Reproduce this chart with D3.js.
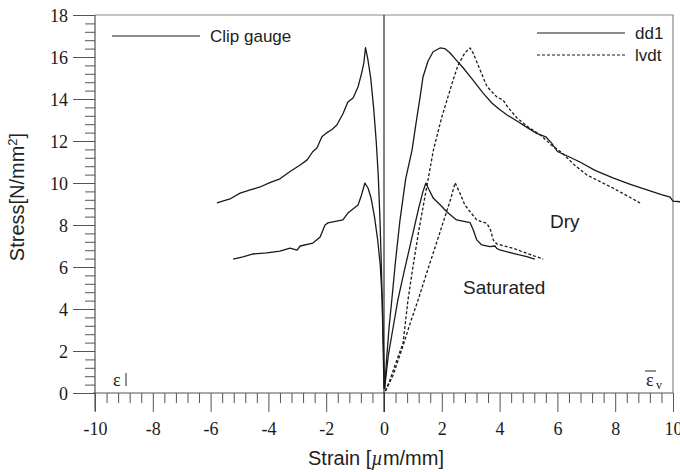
<!DOCTYPE html>
<html>
<head>
<meta charset="utf-8">
<script src="https://cdn.jsdelivr.net/npm/d3@7/dist/d3.min.js"></script>
<style>
  html, body { margin: 0; padding: 0; background: #fff; }
  svg { display: block; }
  .tick text { font-family: "Liberation Serif", "Times New Roman", serif; font-size: 18px; fill: #1a1a1a; }
</style>
</head>
<body>
<svg id="chart" width="680" height="472"></svg>
<script>
// Stress–strain curves: [strain µm/mm, stress N/mm²]
const clipDry = [[-5.78,9.05],[-5.33,9.24],[-4.98,9.52],[-4.6,9.68],[-4.29,9.81],[-3.95,10.02],[-3.6,10.2],
  [-3.25,10.55],[-2.9,10.86],[-2.66,11.1],[-2.46,11.5],[-2.32,11.67],[-2.15,12.2],[-1.97,12.4],[-1.8,12.55],
  [-1.63,12.76],[-1.42,13.3],[-1.25,13.86],[-1.07,14.05],[-0.9,14.57],[-0.78,15.2],[-0.7,15.7],[-0.64,16.45],
  [-0.56,15.9],[-0.46,15.0],[-0.36,13.6],[-0.27,12.0],[-0.2,10.4],[-0.14,8.3],[-0.09,6.0],[-0.05,3.5],[0.0,0.2]];
const clipSat = [[-5.22,6.37],[-4.88,6.48],[-4.53,6.62],[-4.05,6.67],[-3.6,6.76],[-3.25,6.9],[-3.01,6.8],
  [-2.9,7.0],[-2.46,7.14],[-2.21,7.43],[-2.04,8.0],[-1.94,8.1],[-1.42,8.24],[-1.25,8.57],[-0.9,8.95],
  [-0.8,9.33],[-0.66,10.0],[-0.55,9.75],[-0.45,9.3],[-0.33,8.4],[-0.22,7.3],[-0.13,6.1],[-0.06,4.4],[0.02,0.2]];
const dd1Dry = [[0.02,0.2],[0.1,1.8],[0.18,3.2],[0.27,4.43],[0.4,6.3],[0.55,8.2],[0.75,10.2],[0.97,11.57],
  [1.14,13.14],[1.25,14.1],[1.35,15.05],[1.52,15.8],[1.7,16.25],[1.94,16.43],[2.1,16.4],[2.28,16.2],
  [2.5,15.85],[2.73,15.5],[3.08,14.9],[3.43,14.28],[3.74,13.8],[4.0,13.5],[4.26,13.24],[4.6,12.95],
  [5.0,12.6],[5.3,12.35],[5.6,12.2],[5.8,11.9],[6.0,11.5],[6.4,11.25],[6.78,11.0],[7.3,10.6],[7.92,10.24],
  [8.5,9.95],[9.1,9.67],[9.6,9.45],[9.9,9.33],[10.0,9.14],[10.3,9.1]];
const lvdtDry = [[0.05,0.1],[0.2,0.6],[0.4,1.4],[0.66,2.38],[0.83,4.43],[1.0,6.0],[1.2,7.7],[1.45,9.6],
  [1.71,11.57],[2.0,13.14],[2.18,13.95],[2.39,14.9],[2.56,15.6],[2.8,16.2],[2.98,16.43],[3.08,16.2],
  [3.32,15.4],[3.56,14.6],[3.9,14.1],[4.12,13.95],[4.29,13.6],[4.6,13.1],[5.0,12.65],[5.4,12.3],[5.8,11.8],
  [6.16,11.43],[6.6,10.85],[7.0,10.4],[7.5,10.05],[7.92,9.76],[8.4,9.4],[8.86,9.05]];
const dd1Sat = [[0.02,0.2],[0.15,1.8],[0.3,3.0],[0.48,4.43],[0.7,5.8],[1.0,7.6],[1.2,8.8],[1.35,9.6],
  [1.45,10.0],[1.55,9.7],[1.71,9.27],[1.95,8.95],[2.17,8.63],[2.51,8.24],[2.98,8.11],[3.09,7.76],
  [3.21,7.29],[3.38,7.05],[3.67,6.97],[3.84,7.0],[3.9,6.89],[4.01,6.81],[4.47,6.65],[4.94,6.49],[5.22,6.38]];
const lvdtSat = [[0.05,0.1],[0.3,0.8],[0.6,2.0],[0.9,3.3],[1.18,4.43],[1.52,5.9],[1.83,7.2],[2.11,8.4],
  [2.3,9.2],[2.46,10.01],[2.63,9.51],[2.8,8.95],[2.98,8.63],[3.21,8.24],[3.55,8.08],[3.67,7.84],[3.78,7.29],
  [3.9,7.1],[4.25,6.97],[4.47,6.89],[4.94,6.65],[5.51,6.38]];

const xTicks = [-10,-8,-6,-4,-2,0,2,4,6,8,10];
const yTicks = [0,2,4,6,8,10,12,14,16,18];
const legendLabels = ["Clip gauge", "dd1", "lvdt"];
const regionLabels = ["Dry", "Saturated"];
const xTitle = "Strain [", xUnit = "µ", xTitleRest = "m/mm]";
const yTitle = "Stress[N/mm", yTitleSup = "2", yTitleEnd = "]";

const svg = d3.select("#chart");
const x = d3.scaleLinear().domain([-10, 10]).range([95, 673]);
const y = d3.scaleLinear().domain([0, 18]).range([393, 15]);
const axisColor = "#555";
const ink = "#1a1a1a";
const fmt = d => String(d); // plain hyphen-minus labels

// frame (top and right)
svg.append("path")
  .attr("d", `M${x(-10)},${y(18)}H${x(10)}V${y(0)}`)
  .attr("fill", "none").attr("stroke", "#8a8a8a").attr("stroke-width", 1.2);

// minor ticks every 0.4
const minorX = d3.range(-10, 10.001, 0.4).filter(v => Math.abs(v / 2 - Math.round(v / 2)) > 1e-6);
const minorY = d3.range(0, 18.001, 0.4).filter(v => Math.abs(v / 2 - Math.round(v / 2)) > 1e-6);

const gx = svg.append("g").attr("transform", `translate(0,${y(0)})`);
gx.call(d3.axisBottom(x).tickValues(xTicks).tickSize(19).tickSizeOuter(0).tickPadding(10).tickFormat(fmt));
gx.append("g").call(d3.axisBottom(x).tickValues(minorX).tickSize(10).tickSizeOuter(0).tickFormat(""));
gx.selectAll("path.domain").remove();
gx.selectAll("line").attr("stroke", axisColor);

const gy = svg.append("g").attr("transform", `translate(${x(-10)},0)`);
gy.call(d3.axisLeft(y).tickValues(yTicks).tickSize(22).tickSizeOuter(0).tickPadding(5).tickFormat(fmt));
gy.append("g").call(d3.axisLeft(y).tickValues(minorY).tickSize(10).tickSizeOuter(0).tickFormat(""));
gy.selectAll("path.domain").remove();
gy.selectAll("line").attr("stroke", axisColor);
gy.selectAll(".tick text").attr("dy", "0.34em");

// axis lines
svg.append("line").attr("x1", x(-10) - 2).attr("x2", x(10)).attr("y1", y(0)).attr("y2", y(0))
  .attr("stroke", axisColor).attr("stroke-width", 1.2);
svg.append("line").attr("x1", x(-10)).attr("x2", x(-10)).attr("y1", y(18)).attr("y2", y(0) + 18)
  .attr("stroke", axisColor).attr("stroke-width", 1.2);
// zero-strain divider
svg.append("line").attr("x1", x(0)).attr("x2", x(0)).attr("y1", y(18)).attr("y2", y(0) + 19)
  .attr("stroke", ink).attr("stroke-width", 1.1);

// curves
const line = d3.line().x(d => x(d[0])).y(d => y(d[1]));
const curves = [
  [clipDry, null], [clipSat, null], [dd1Dry, null], [dd1Sat, null],
  [lvdtDry, "3,2"], [lvdtSat, "3,2"]
];
curves.forEach(([data, dash]) => {
  svg.append("path").datum(data).attr("d", line)
    .attr("fill", "none").attr("stroke", ink).attr("stroke-width", 1.3)
    .attr("stroke-linejoin", "round")
    .attr("stroke-dasharray", dash);
});

// legends
const sans = "'Liberation Sans', Arial, sans-serif";
function legendItem(x1, x2, yy, label, dash) {
  svg.append("line").attr("x1", x1).attr("x2", x2).attr("y1", yy).attr("y2", yy)
    .attr("stroke", ink).attr("stroke-width", 1.2).attr("stroke-dasharray", dash);
  svg.append("text").attr("x", x2 + 10).attr("y", yy + 6)
    .attr("font-family", sans).attr("font-size", 17).attr("fill", "#222").text(label);
}
legendItem(112, 200, 36, legendLabels[0], null);
legendItem(537, 625, 33, legendLabels[1], null);
legendItem(537, 625, 55, legendLabels[2], "3,2");

// region labels
svg.append("text").attr("x", 550).attr("y", 228).attr("font-family", sans).attr("font-size", 19)
  .attr("fill", "#222").text(regionLabels[0]);
svg.append("text").attr("x", 463).attr("y", 294).attr("font-family", sans).attr("font-size", 19)
  .attr("fill", "#222").text(regionLabels[1]);

// axis titles
const xt = svg.append("text").attr("x", 376).attr("y", 465).attr("text-anchor", "middle")
  .attr("font-family", sans).attr("font-size", 20).attr("fill", "#222");
xt.append("tspan").text(xTitle);
xt.append("tspan").attr("font-family", "'Liberation Serif', serif").attr("font-style", "italic").text(xUnit);
xt.append("tspan").text(xTitleRest);

const yt = svg.append("text").attr("transform", "translate(24,197) rotate(-90)").attr("text-anchor", "middle")
  .attr("font-family", sans).attr("font-size", 20).attr("fill", "#222");
yt.append("tspan").text(yTitle);
yt.append("tspan").attr("dy", -7).attr("font-size", 13).text(yTitleSup);
yt.append("tspan").attr("dy", 7).text(yTitleEnd);

// strain direction markers
const serif = "'Liberation Serif', 'Times New Roman', serif";
svg.append("text").attr("x", 113).attr("y", 386).attr("font-family", serif).attr("font-size", 18)
  .attr("fill", "#222").text("ε");
svg.append("line").attr("x1", 126).attr("x2", 126).attr("y1", 373).attr("y2", 386)
  .attr("stroke", "#222").attr("stroke-width", 1);
svg.append("text").attr("x", 646).attr("y", 386).attr("font-family", serif).attr("font-size", 18)
  .attr("fill", "#222").text("ε");
svg.append("line").attr("x1", 645).attr("x2", 656).attr("y1", 371).attr("y2", 371)
  .attr("stroke", "#222").attr("stroke-width", 1);
svg.append("text").attr("x", 656).attr("y", 389).attr("font-family", serif).attr("font-size", 12)
  .attr("fill", "#222").text("v");
</script>
</body>
</html>
